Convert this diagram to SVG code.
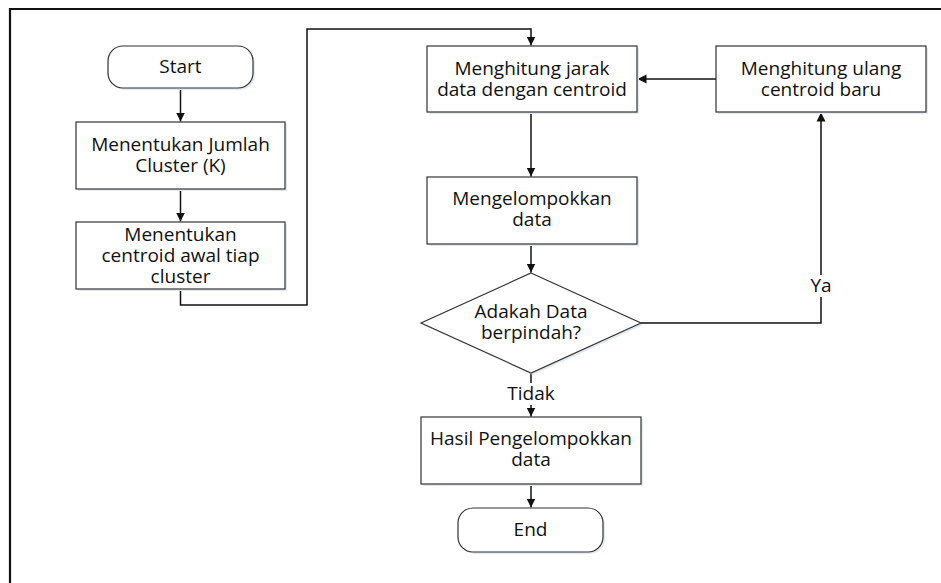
<svg xmlns="http://www.w3.org/2000/svg" width="941" height="583" viewBox="0 0 941 583">
<style>
.box{fill:#fff;stroke:#333;stroke-width:1.2}
.sh{fill:#e3e9f1;stroke:none}
.t{font-family:"Open Sans","Liberation Sans",sans-serif;font-size:19px;fill:#111;text-anchor:middle}
.c{fill:none;stroke:#111;stroke-width:1.5}
.lbl{fill:#fff}
</style>
<defs>
<marker id="ah" markerWidth="10" markerHeight="10" refX="9" refY="5" orient="auto" markerUnits="userSpaceOnUse">
<path d="M0,0.5 L9,5 L0,9.5 Z" fill="#111"/>
</marker>
</defs>
<rect width="941" height="583" fill="#fff"/>
<path d="M10,583 V9 H941" fill="none" stroke="#111" stroke-width="2.2"/>

<g id="connectors">
<path class="c" d="M180.5,88 V121.5" marker-end="url(#ah)"/>
<path class="c" d="M180.5,189 V221.5" marker-end="url(#ah)"/>
<path class="c" d="M180.5,289 V305 H307 V29 H531 V45.5" marker-end="url(#ah)"/>
<path class="c" d="M531,112 V176.5" marker-end="url(#ah)"/>
<path class="c" d="M531,244 V272.5" marker-end="url(#ah)"/>
<path class="c" d="M531,373 V416.5" marker-end="url(#ah)"/>
<path class="c" d="M531,484 V507.5" marker-end="url(#ah)"/>
<path class="c" d="M641,323 H821 V112.5" marker-end="url(#ah)"/>
<path class="c" d="M716,79 H637.5" marker-end="url(#ah)"/>
<rect class="lbl" x="505" y="383" width="52" height="22"/>
<text class="t" x="531" y="400">Tidak</text>
<rect class="lbl" x="806" y="275" width="30" height="22"/>
<text class="t" x="821" y="292">Ya</text>
</g>

<g id="start">
<rect class="sh" x="110" y="48" width="145" height="42" rx="15"/>
<rect class="box" x="108" y="46" width="145" height="42" rx="15"/>
<text class="t" x="180.5" y="73">Start</text>
</g>

<g id="jumlah-cluster">
<rect class="sh" x="78" y="124" width="209" height="67"/>
<rect class="box" x="76" y="122" width="209" height="67"/>
<text class="t" x="180.5" y="151">Menentukan Jumlah</text>
<text class="t" x="180.5" y="172">Cluster (K)</text>
</g>

<g id="centroid-awal">
<rect class="sh" x="78" y="224" width="209" height="67"/>
<rect class="box" x="76" y="222" width="209" height="67"/>
<text class="t" x="180.5" y="241">Menentukan</text>
<text class="t" x="180.5" y="262">centroid awal tiap</text>
<text class="t" x="180.5" y="283">cluster</text>
</g>

<g id="hitung-jarak">
<rect class="sh" x="429" y="48" width="210" height="66"/>
<rect class="box" x="427" y="46" width="210" height="66"/>
<text class="t" x="532" y="74.5">Menghitung jarak</text>
<text class="t" x="532" y="95.5">data dengan centroid</text>
</g>

<g id="kelompok">
<rect class="sh" x="429" y="179" width="210" height="67"/>
<rect class="box" x="427" y="177" width="210" height="67"/>
<text class="t" x="532" y="205">Mengelompokkan</text>
<text class="t" x="532" y="226">data</text>
</g>

<g id="hitung-ulang">
<rect class="sh" x="718" y="48" width="210" height="66"/>
<rect class="box" x="716" y="46" width="210" height="66"/>
<text class="t" x="821" y="74.5">Menghitung ulang</text>
<text class="t" x="821" y="95.5">centroid baru</text>
</g>

<g id="decision">
<polygon class="sh" points="533,275 643,325 533,375 423,325"/>
<polygon class="box" points="531,273 641,323 531,373 421,323"/>
<text class="t" x="531" y="318">Adakah Data</text>
<text class="t" x="531" y="339">berpindah?</text>
</g>

<g id="hasil">
<rect class="sh" x="423" y="419" width="220" height="67"/>
<rect class="box" x="421" y="417" width="220" height="67"/>
<text class="t" x="531" y="445">Hasil Pengelompokkan</text>
<text class="t" x="531" y="466">data</text>
</g>

<g id="end">
<rect class="sh" x="460" y="510" width="145" height="44" rx="15"/>
<rect class="box" x="458" y="508" width="145" height="44" rx="15"/>
<text class="t" x="530.5" y="536">End</text>
</g>
</svg>
